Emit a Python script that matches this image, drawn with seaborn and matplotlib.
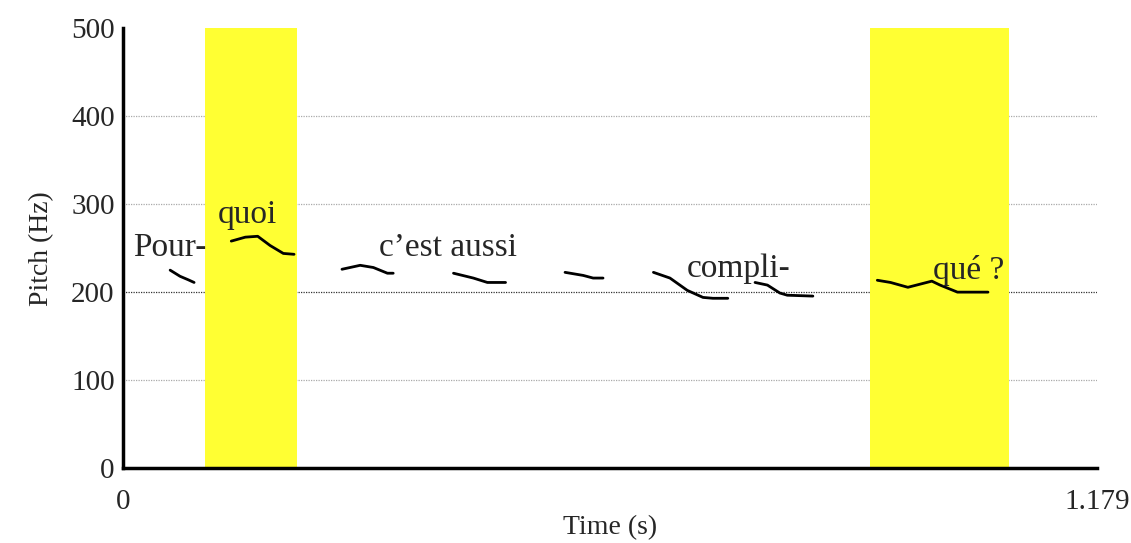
import matplotlib
matplotlib.use("Agg")
import matplotlib.pyplot as plt
import seaborn as sns
import pandas as pd

# Pitch contour segments (time in s, F0 in Hz)
seg_pour_t = [0.057, 0.069, 0.079, 0.086]
seg_pour_f = [225, 218, 214, 211]
seg_quoi_t = [0.131, 0.148, 0.163, 0.178, 0.194, 0.207]
seg_quoi_f = [258, 262.5, 263.5, 253, 244, 243]
seg_cest_t = [0.265, 0.287, 0.303, 0.320, 0.327]
seg_cest_f = [226, 230.5, 228, 221.5, 221.5]
seg_au_t = [0.400, 0.424, 0.441, 0.463]
seg_au_f = [221.5, 216, 211, 211]
seg_ssi_t = [0.535, 0.557, 0.569, 0.581]
seg_ssi_f = [222.5, 219, 216, 216]
seg_com_t = [0.642, 0.662, 0.683, 0.702, 0.714, 0.732]
seg_com_f = [222.5, 216, 202, 194, 193, 193]
seg_pli_t = [0.765, 0.780, 0.795, 0.804, 0.835]
seg_pli_f = [211, 208, 199, 196.5, 195.5]
seg_que_t = [0.913, 0.929, 0.950, 0.979, 0.989, 1.010, 1.047]
seg_que_f = [213.5, 211, 205.5, 212.5, 208, 200, 200]

segments = [
    (seg_pour_t, seg_pour_f), (seg_quoi_t, seg_quoi_f),
    (seg_cest_t, seg_cest_f), (seg_au_t, seg_au_f),
    (seg_ssi_t, seg_ssi_f), (seg_com_t, seg_com_f),
    (seg_pli_t, seg_pli_f), (seg_que_t, seg_que_f),
]

# Highlighted syllables (start, end in s)
highlight_spans = [(0.0993, 0.2107), (0.904, 1.073)]

# Syllable labels and their anchor positions (s, Hz)
label_texts = ["Pour-", "quoi", "c\u2019est aussi", "compli-", "qu\u00e9 ?"]
label_t = [0.057, 0.151, 0.393, 0.745, 1.023]
label_f = [250, 288, 250, 227, 225]

t_max = 1.179
y_ticks = [0, 100, 200, 300, 400, 500]

rows = []
for i, (ts, fs) in enumerate(segments):
    for t, f in zip(ts, fs):
        rows.append({"seg": i, "time": t, "f0": f})
df = pd.DataFrame(rows)

sns.set_style("white")
plt.rcParams["font.family"] = ["Liberation Serif", "DejaVu Serif"]

fig = plt.figure(figsize=(11.31, 5.43), dpi=100)
ax = fig.add_axes([0.1088, 0.138, 0.8612, 0.810])

# dotted horizontal grid
for yv in [100, 200, 300, 400]:
    ax.axhline(yv, color="#333333" if yv == 200 else "#aaaaaa",
               linestyle=(0, (1, 1)), linewidth=0.9, zorder=0)

for a, b in highlight_spans:
    ax.axvspan(a, b, color="#ffff33", zorder=1, linewidth=0)

sns.lineplot(data=df, x="time", y="f0", units="seg", estimator=None,
             color="black", linewidth=2.0, ax=ax, zorder=3, legend=False)

for txt, t, f in zip(label_texts, label_t, label_f):
    ax.text(t, f, txt, ha="center", va="center", fontsize=24, zorder=4)

ax.set_xlim(0, t_max)
ax.set_ylim(0, 500)
ax.set_xticks([0, t_max])
ax.set_xticklabels(["0", "1.179"])
ax.set_yticks(y_ticks)
ax.set_yticklabels([str(v) for v in y_ticks])
ax.tick_params(axis="both", labelsize=21, direction="inout", length=10,
               width=1.5, color="black")
ax.tick_params(axis="x", pad=10)
ax.tick_params(axis="y", pad=1)

for side in ["top", "right"]:
    ax.spines[side].set_visible(False)
for side in ["left", "bottom"]:
    ax.spines[side].set_color("black")
    ax.spines[side].set_linewidth(2.5)
    ax.spines[side].set_zorder(5)

ax.set_xlabel("Time (s)", fontsize=20, labelpad=0)
ax.set_ylabel("Pitch (Hz)", fontsize=20, labelpad=12)

fig.savefig("out.png", dpi=100)
